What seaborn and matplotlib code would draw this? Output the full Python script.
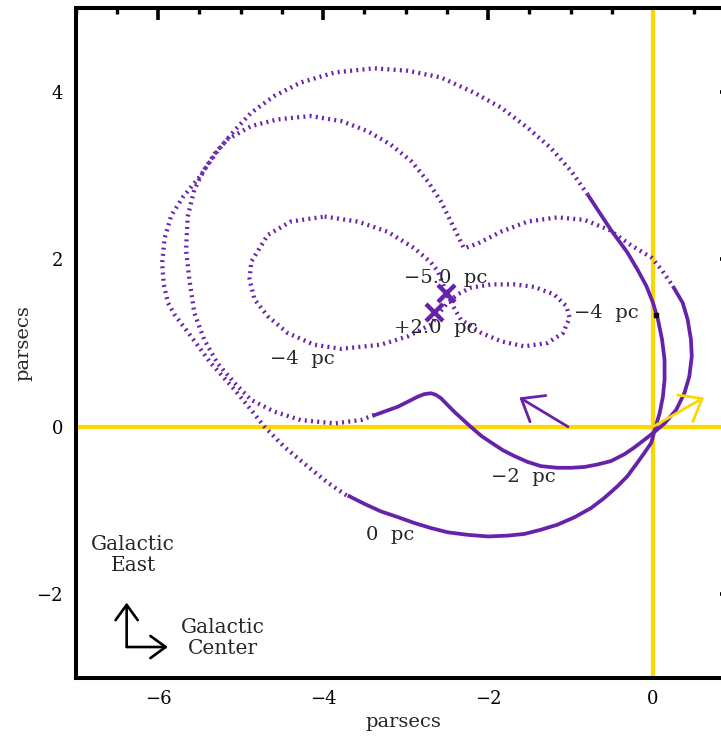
import numpy as np
import pandas as pd
import matplotlib
matplotlib.use("Agg")
import matplotlib.pyplot as plt
import seaborn as sns

# ---------------- data ----------------
# "0 pc" orbit (outer loop): dotted part, then solid part
orbit0_dot_x = [-0.79, -0.99, -1.24, -1.52, -1.84, -2.17, -2.57, -2.97, -3.38, -3.86,
                -4.27, -4.59, -4.87, -5.08, -5.28, -5.50, -5.70, -5.84, -5.92, -5.95,
                -5.93, -5.88, -5.80, -5.60, -5.36, -5.07, -4.87, -4.71, -4.47, -4.19,
                -3.94, -3.70]
orbit0_dot_y = [2.77, 3.05, 3.33, 3.57, 3.81, 3.99, 4.17, 4.25, 4.28, 4.23,
                4.11, 3.95, 3.75, 3.53, 3.29, 2.98, 2.74, 2.52, 2.25, 1.95,
                1.70, 1.48, 1.34, 1.08, 0.76, 0.44, 0.20, 0.00, -0.24, -0.47,
                -0.67, -0.83]
orbit0_sol_x = [-0.79, -0.63, -0.51, -0.31, -0.19, -0.08, 0.00, 0.06, 0.11, 0.14,
                0.14, 0.12, 0.08, 0.02, -0.02, -0.11, -0.19, -0.31, -0.43, -0.59,
                -0.75, -0.95, -1.16, -1.36, -1.56, -1.76, -2.00, -2.25, -2.49, -2.69,
                -2.89, -3.09, -3.30, -3.50, -3.70]
orbit0_sol_y = [2.77, 2.53, 2.35, 2.08, 1.88, 1.68, 1.48, 1.28, 1.04, 0.80,
                0.56, 0.36, 0.16, -0.04, -0.19, -0.32, -0.43, -0.59, -0.71, -0.85,
                -0.97, -1.08, -1.17, -1.23, -1.28, -1.30, -1.31, -1.29, -1.26, -1.21,
                -1.15, -1.08, -1.01, -0.92, -0.82]

# "-2 pc" orbit (middle loop)
orbit2_dot_x = [-3.38, -3.54, -3.86, -4.27, -4.59, -4.87, -5.07, -5.28, -5.44, -5.56,
                -5.62, -5.66, -5.64, -5.56, -5.44, -5.30, -5.16, -4.87, -4.55, -4.15,
                -3.78, -3.46, -3.18, -2.93, -2.73, -2.57, -2.41, -2.29, -2.12, -1.84,
                -1.52, -1.16, -0.83, -0.53, -0.27, -0.02, 0.10, 0.24]
orbit2_dot_y = [0.14, 0.08, 0.04, 0.08, 0.18, 0.32, 0.52, 0.76, 1.04, 1.36,
                1.76, 2.11, 2.51, 2.83, 3.07, 3.28, 3.43, 3.59, 3.67, 3.71,
                3.65, 3.53, 3.37, 3.17, 2.93, 2.69, 2.37, 2.13, 2.19, 2.33,
                2.45, 2.50, 2.47, 2.35, 2.17, 2.02, 1.88, 1.68]
orbit2_sol_x = [0.24, 0.36, 0.42, 0.46, 0.47, 0.44, 0.38, 0.28, 0.14, 0.02,
                -0.11, -0.23, -0.35, -0.51, -0.67, -0.83, -0.99, -1.16, -1.36, -1.52,
                -1.68, -1.82, -1.96, -2.08, -2.21, -2.31, -2.41, -2.51, -2.57, -2.63,
                -2.69, -2.77, -2.85, -2.97, -3.09, -3.26, -3.40]
orbit2_sol_y = [1.68, 1.48, 1.28, 1.04, 0.84, 0.60, 0.40, 0.20, 0.04, -0.06,
                -0.16, -0.25, -0.33, -0.41, -0.45, -0.48, -0.49, -0.49, -0.47, -0.42,
                -0.35, -0.28, -0.19, -0.11, 0.00, 0.09, 0.18, 0.28, 0.34, 0.38,
                0.40, 0.39, 0.36, 0.30, 0.24, 0.18, 0.13]

# "-4 pc" orbit (inner figure-eight, all dotted)
orbit4_x = [-3.98, -3.58, -3.22, -2.89, -2.69, -2.61, -2.54, -2.47, -2.40, -2.33,
            -2.08, -1.84, -1.56, -1.28, -1.09, -1.01, -1.05, -1.20, -1.44, -1.68,
            -1.96, -2.21, -2.37, -2.49, -2.59, -2.69, -2.97, -3.30, -3.78, -4.11,
            -4.43, -4.67, -4.83, -4.89, -4.87, -4.67, -4.39, -3.98]
orbit4_y = [2.51, 2.45, 2.33, 2.13, 1.96, 1.86, 1.69, 1.52, 1.40, 1.28,
            1.12, 1.02, 0.96, 1.00, 1.12, 1.30, 1.44, 1.58, 1.67, 1.70,
            1.70, 1.66, 1.58, 1.48, 1.36, 1.22, 1.08, 0.98, 0.93, 0.98,
            1.12, 1.32, 1.52, 1.76, 1.97, 2.29, 2.45, 2.51]

# marked positions
cross_x = [-2.51, -2.65]
cross_y = [1.60, 1.37]
star_x = [0.04]
star_y = [1.34]

# text labels
label_text = ["\u22125.0  pc", "+2.0  pc", "\u22124  pc", "\u22124  pc", "\u22122  pc", "0  pc"]
label_x = [-2.51, -2.63, -0.57, -4.25, -1.57, -3.19]
label_y = [1.78, 1.18, 1.36, 0.81, -0.60, -1.29]

# direction arrows (tail -> head)
purple_arrow = [(-1.03, 0.0), (-1.62, 0.35)]
yellow_arrow = [(0.0, 0.0), (0.62, 0.35)]

x_ticks = [-6, -4, -2, 0]
y_ticks = [-2, 0, 2, 4]

# ---------------- styling ----------------
sns.set_style("white")
plt.rcParams["font.family"] = ["DejaVu Serif"]
plt.rcParams["axes.unicode_minus"] = True

PURPLE = "#6622AA"
YELLOW = "#FFD700"

fig = plt.figure(figsize=(7.21, 7.38), dpi=100)
ax = fig.add_axes([75.5 / 721, 60 / 738, 656.7 / 721, 670 / 738])

# yellow reference lines
ax.axhline(0, color=YELLOW, lw=3.0, zorder=1)
ax.axvline(0, color=YELLOW, lw=3.0, zorder=1)

dot_style = (0, (0.45, 1.0))
LW = 2.7
LW_DOT = 3.1


def draw(xs, ys, dotted):
    df = pd.DataFrame({"x": xs, "y": ys})
    if dotted:
        kw = dict(linestyle=dot_style, dash_capstyle="butt", lw=LW_DOT)
    else:
        kw = dict(solid_capstyle="butt", solid_joinstyle="round", lw=LW)
    sns.lineplot(data=df, x="x", y="y", sort=False, estimator=None, ax=ax,
                 color=PURPLE, zorder=3, **kw)


draw(orbit0_dot_x, orbit0_dot_y, True)
draw(orbit0_sol_x, orbit0_sol_y, False)
draw(orbit2_dot_x, orbit2_dot_y, True)
draw(orbit2_sol_x, orbit2_sol_y, False)
draw(orbit4_x, orbit4_y, True)

# X marks
sns.scatterplot(x=cross_x, y=cross_y, marker="x", s=150, color=PURPLE,
                linewidth=3.2, ax=ax, zorder=4)
ax.plot(star_x, star_y, marker="s", ms=3, color="black", lw=0, zorder=5)

# labels
for t, x, y in zip(label_text, label_x, label_y):
    ax.text(x, y, t, ha="center", va="center", fontsize=14, zorder=6)

# arrows
head = "->,head_length=1.4,head_width=1.1"
ax.annotate("", xy=purple_arrow[1], xytext=purple_arrow[0],
            arrowprops=dict(arrowstyle=head, mutation_scale=10, color=PURPLE,
                            lw=2.0, shrinkA=0, shrinkB=0), zorder=5)
ax.annotate("", xy=yellow_arrow[1], xytext=yellow_arrow[0],
            arrowprops=dict(arrowstyle=head, mutation_scale=10, color=YELLOW,
                            lw=2.0, shrinkA=0, shrinkB=0), zorder=5)

# compass
corner = (-6.38, -2.63)
chead = "->,head_length=1.1,head_width=0.8"
ax.annotate("", xy=(-6.38, -2.10), xytext=corner,
            arrowprops=dict(arrowstyle=chead, mutation_scale=10, color="black",
                            lw=1.9, shrinkA=0, shrinkB=0))
ax.annotate("", xy=(-5.88, -2.63), xytext=corner,
            arrowprops=dict(arrowstyle=chead, mutation_scale=10, color="black",
                            lw=1.9, shrinkA=0, shrinkB=0))
ax.text(-6.30, -1.53, "Galactic\nEast", ha="center", va="center", fontsize=14.5,
        linespacing=1.15)
ax.text(-5.21, -2.52, "Galactic\nCenter", ha="center", va="center", fontsize=14.5,
        linespacing=1.15)

# axes
ax.set_xlim(-7, 0.96)
ax.set_ylim(-3, 5)
ax.set_xticks(x_ticks)
ax.set_yticks(y_ticks)
ax.set_xticks(np.arange(-7, 1.0, 0.5), minor=True)
ax.set_yticks(np.arange(-3, 5.01, 0.5), minor=True)
ax.tick_params(which="both", direction="in", top=True, right=True,
               labelsize=13, color="black", labelcolor="black")
ax.tick_params(which="major", length=8.5, width=2.6, pad=9)
ax.tick_params(which="minor", length=4.5, width=2.4)
for s in ax.spines.values():
    s.set_linewidth(2.9)
    s.set_color("black")
ax.set_xlabel("parsecs", fontsize=14, labelpad=3)
ax.set_ylabel("parsecs", fontsize=14, labelpad=3)

fig.savefig("out.png", dpi=100)
